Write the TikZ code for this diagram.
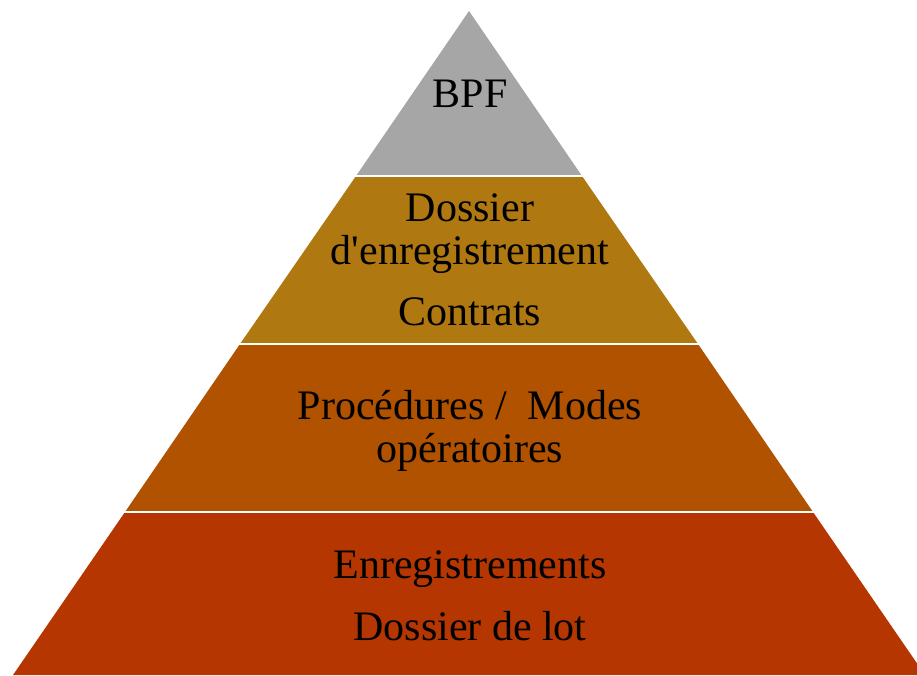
\documentclass[tikz,border=0pt]{standalone}
\usepackage{fontspec}
\setmainfont{Liberation Serif}[Ligatures=TeXOff]
\definecolor{bandgray}{RGB}{166,166,166}
\definecolor{bandgold}{RGB}{176,120,16}
\definecolor{bandorange}{RGB}{176,82,0}
\definecolor{bandred}{RGB}{181,54,0}
\tikzset{
  label text/.style={anchor=base, inner sep=0pt, font=\fontsize{42}{43}\selectfont, text=black},
  separator/.style={draw=white, line width=2.6pt}
}
\begin{document}
\begin{tikzpicture}[x=1pt,y=1pt]
\useasboundingbox (0,0) rectangle (917,675);
\begin{scope}
\clip (0,0) rectangle (917,675);
% apex (469,664), base half-width 456
\coordinate (apex) at (469,664);
\coordinate (b0l) at (13,0);      \coordinate (b0r) at (925,0);
\coordinate (b1l) at (125,163);   \coordinate (b1r) at (813,163);
\coordinate (b2l) at (240,331);   \coordinate (b2r) at (698,331);
\coordinate (b3l) at (356,499);   \coordinate (b3r) at (582,499);
\fill[bandred]    (b0l) -- (b0r) -- (b1r) -- (b1l) -- cycle;
\fill[bandorange] (b1l) -- (b1r) -- (b2r) -- (b2l) -- cycle;
\fill[bandgold]   (b2l) -- (b2r) -- (b3r) -- (b3l) -- cycle;
\fill[bandgray]   (b3l) -- (b3r) -- (apex) -- cycle;
\draw[separator] ([xshift=-4pt]b1l) -- ([xshift=4pt]b1r);
\draw[separator] ([xshift=-4pt]b2l) -- ([xshift=4pt]b2r);
\draw[separator] ([xshift=-4pt]b3l) -- ([xshift=4pt]b3r);
\end{scope}
\node[label text] (bpf) at (470,567) {BPF};
\node[label text] (dossier) at (470,453) {Dossier};
\node[label text] (denreg) at (470,410) {d'enregistrement};
\node[label text] (contrats) at (470,349) {Contrats};
\node[label text] (proc) at (470,256) {Procédures /\ \ Modes};
\node[label text] (operat) at (470,213) {opératoires};
\node[label text] (enreg) at (470,97) {Enregistrements};
\node[label text] (lot) at (470,35) {Dossier de lot};
\end{tikzpicture}
\end{document}
